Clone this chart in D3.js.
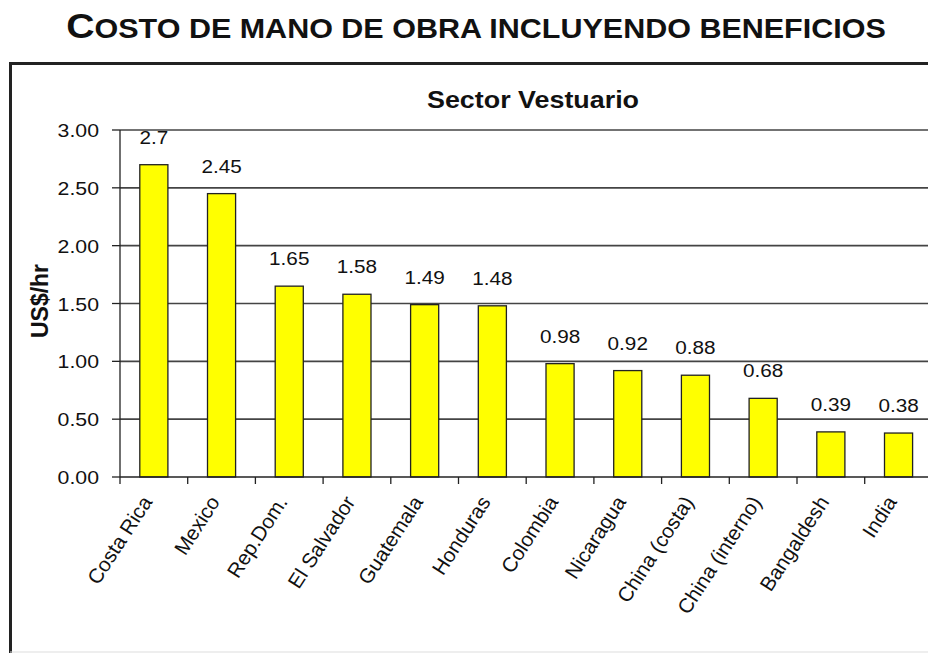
<!DOCTYPE html>
<html>
<head>
<meta charset="utf-8">
<script src="https://cdn.jsdelivr.net/npm/d3@7"></script>
<style>
  body { margin: 0; background: #fff; }
  svg { display: block; }
</style>
</head>
<body>
<div id="chart"></div>
<script>
const countries = ["Costa Rica", "Mexico", "Rep.Dom.", "El Salvador", "Guatemala", "Honduras",
  "Colombia", "Nicaragua", "China (costa)", "China (interno)", "Bangaldesh", "India"];
const costs = [2.7, 2.45, 1.65, 1.58, 1.49, 1.48, 0.98, 0.92, 0.88, 0.68, 0.39, 0.38];
const costLabels = ["2.7", "2.45", "1.65", "1.58", "1.49", "1.48", "0.98", "0.92", "0.88", "0.68", "0.39", "0.38"];
const yTicks = [0, 0.5, 1, 1.5, 2, 2.5, 3];

const width = 928;
const height = 653;
const margin = { top: 130, left: 120, bottom: 477 };
const stretch = 1.12; // the picture is a bit wider than tall

const svg = d3.select("#chart").append("svg")
  .attr("width", width)
  .attr("height", height);

// Main title, small caps look, squeezed to the width of the original
const title = svg.append("g").attr("transform", `translate(476,38)`);
const titleText = title.append("text")
  .attr("text-anchor", "middle")
  .attr("font-family", "'Liberation Sans Narrow', 'Arial Narrow', Arial, sans-serif")
  .attr("font-weight", "bold")
  .attr("fill", "#111");
titleText.append("tspan").attr("font-size", 36).text("C");
titleText.append("tspan").attr("font-size", 28).text("OSTO DE MANO DE OBRA INCLUYENDO BENEFICIOS");
const tw = titleText.node().getBBox().width;
titleText.attr("transform", `scale(${820 / tw},1)`);

// Chart frame (cut by the page edge)
svg.append("path")
  .attr("d", `M10.5,${height}V63.5H${width}`)
  .attr("fill", "none")
  .attr("stroke", "#222")
  .attr("stroke-width", 3);
svg.append("line")
  .attr("x1", 10).attr("x2", width)
  .attr("y1", 652).attr("y2", 652)
  .attr("stroke", "#ddd");

// Subtitle
svg.append("text")
  .attr("transform", `translate(533,108) scale(${stretch},1)`)
  .attr("text-anchor", "middle")
  .attr("font-family", "Arial, 'Liberation Sans', sans-serif")
  .attr("font-weight", "bold")
  .attr("font-size", 24)
  .attr("fill", "#111")
  .text("Sector Vestuario");

const y = d3.scaleLinear().domain([0, 3]).range([margin.bottom, margin.top]);
const x = d3.scaleBand().domain(countries).range([margin.left, margin.left + 12 * 67.7]).padding(0);
const barW = x.bandwidth() * 0.415;

// Gridlines
svg.append("g")
  .selectAll("line")
  .data(yTicks.filter(d => d > 0))
  .enter()
  .append("line")
  .attr("x1", margin.left)
  .attr("x2", width)
  .attr("y1", d => y(d))
  .attr("y2", d => y(d))
  .attr("stroke", "#444")
  .attr("stroke-width", 1.6);

// Bars
svg.append("g")
  .selectAll("rect")
  .data(costs)
  .enter()
  .append("rect")
  .attr("x", (d, i) => x(countries[i]) + x.bandwidth() / 2 - barW / 2)
  .attr("y", d => y(d))
  .attr("width", barW)
  .attr("height", d => y(0) - y(d))
  .attr("fill", "#ffff00")
  .attr("stroke", "#222")
  .attr("stroke-width", 1.3);

// Value labels
svg.append("g")
  .selectAll("text")
  .data(costs)
  .enter()
  .append("text")
  .attr("transform", (d, i) => `translate(${x(countries[i]) + x.bandwidth() / 2},${y(d) - 21}) scale(${stretch},1)`)
  .attr("text-anchor", "middle")
  .attr("font-family", "Arial, 'Liberation Sans', sans-serif")
  .attr("font-size", 18.5)
  .attr("fill", "#111")
  .text((d, i) => costLabels[i]);

// Y axis
svg.append("line")
  .attr("x1", margin.left).attr("x2", margin.left)
  .attr("y1", margin.top).attr("y2", margin.bottom)
  .attr("stroke", "#222").attr("stroke-width", 1.3);
const yAxis = svg.append("g");
yAxis.selectAll("line")
  .data(yTicks)
  .enter()
  .append("line")
  .attr("x1", margin.left - 8)
  .attr("x2", margin.left)
  .attr("y1", d => y(d))
  .attr("y2", d => y(d))
  .attr("stroke", "#222")
  .attr("stroke-width", 1.3);
yAxis.selectAll("text")
  .data(yTicks)
  .enter()
  .append("text")
  .attr("transform", d => `translate(99,${y(d) + 7}) scale(${stretch},1)`)
  .attr("text-anchor", "end")
  .attr("font-family", "Arial, 'Liberation Sans', sans-serif")
  .attr("font-size", 19)
  .attr("fill", "#111")
  .text(d => d3.format(".2f")(d));

svg.append("text")
  .attr("transform", `translate(48,301) rotate(-90)`)
  .attr("text-anchor", "middle")
  .attr("font-family", "Arial, 'Liberation Sans', sans-serif")
  .attr("font-weight", "bold")
  .attr("font-size", 23)
  .attr("fill", "#111")
  .text("US$/hr");

// X axis
svg.append("line")
  .attr("x1", margin.left).attr("x2", width)
  .attr("y1", margin.bottom).attr("y2", margin.bottom)
  .attr("stroke", "#222").attr("stroke-width", 1.3);
svg.append("g")
  .selectAll("line")
  .data(countries)
  .enter()
  .append("line")
  .attr("x1", d => x(d))
  .attr("x2", d => x(d))
  .attr("y1", margin.bottom)
  .attr("y2", margin.bottom + 7)
  .attr("stroke", "#222")
  .attr("stroke-width", 1.3);

svg.append("g")
  .selectAll("text")
  .data(countries)
  .enter()
  .append("text")
  .attr("transform", d => `translate(${x(d) + x.bandwidth() / 2 - 1},${margin.bottom + 25}) rotate(-57)`)
  .attr("text-anchor", "end")
  .attr("font-family", "Arial, 'Liberation Sans', sans-serif")
  .attr("font-size", 20.5)
  .attr("fill", "#111")
  .text(d => d);
</script>
</body>
</html>
